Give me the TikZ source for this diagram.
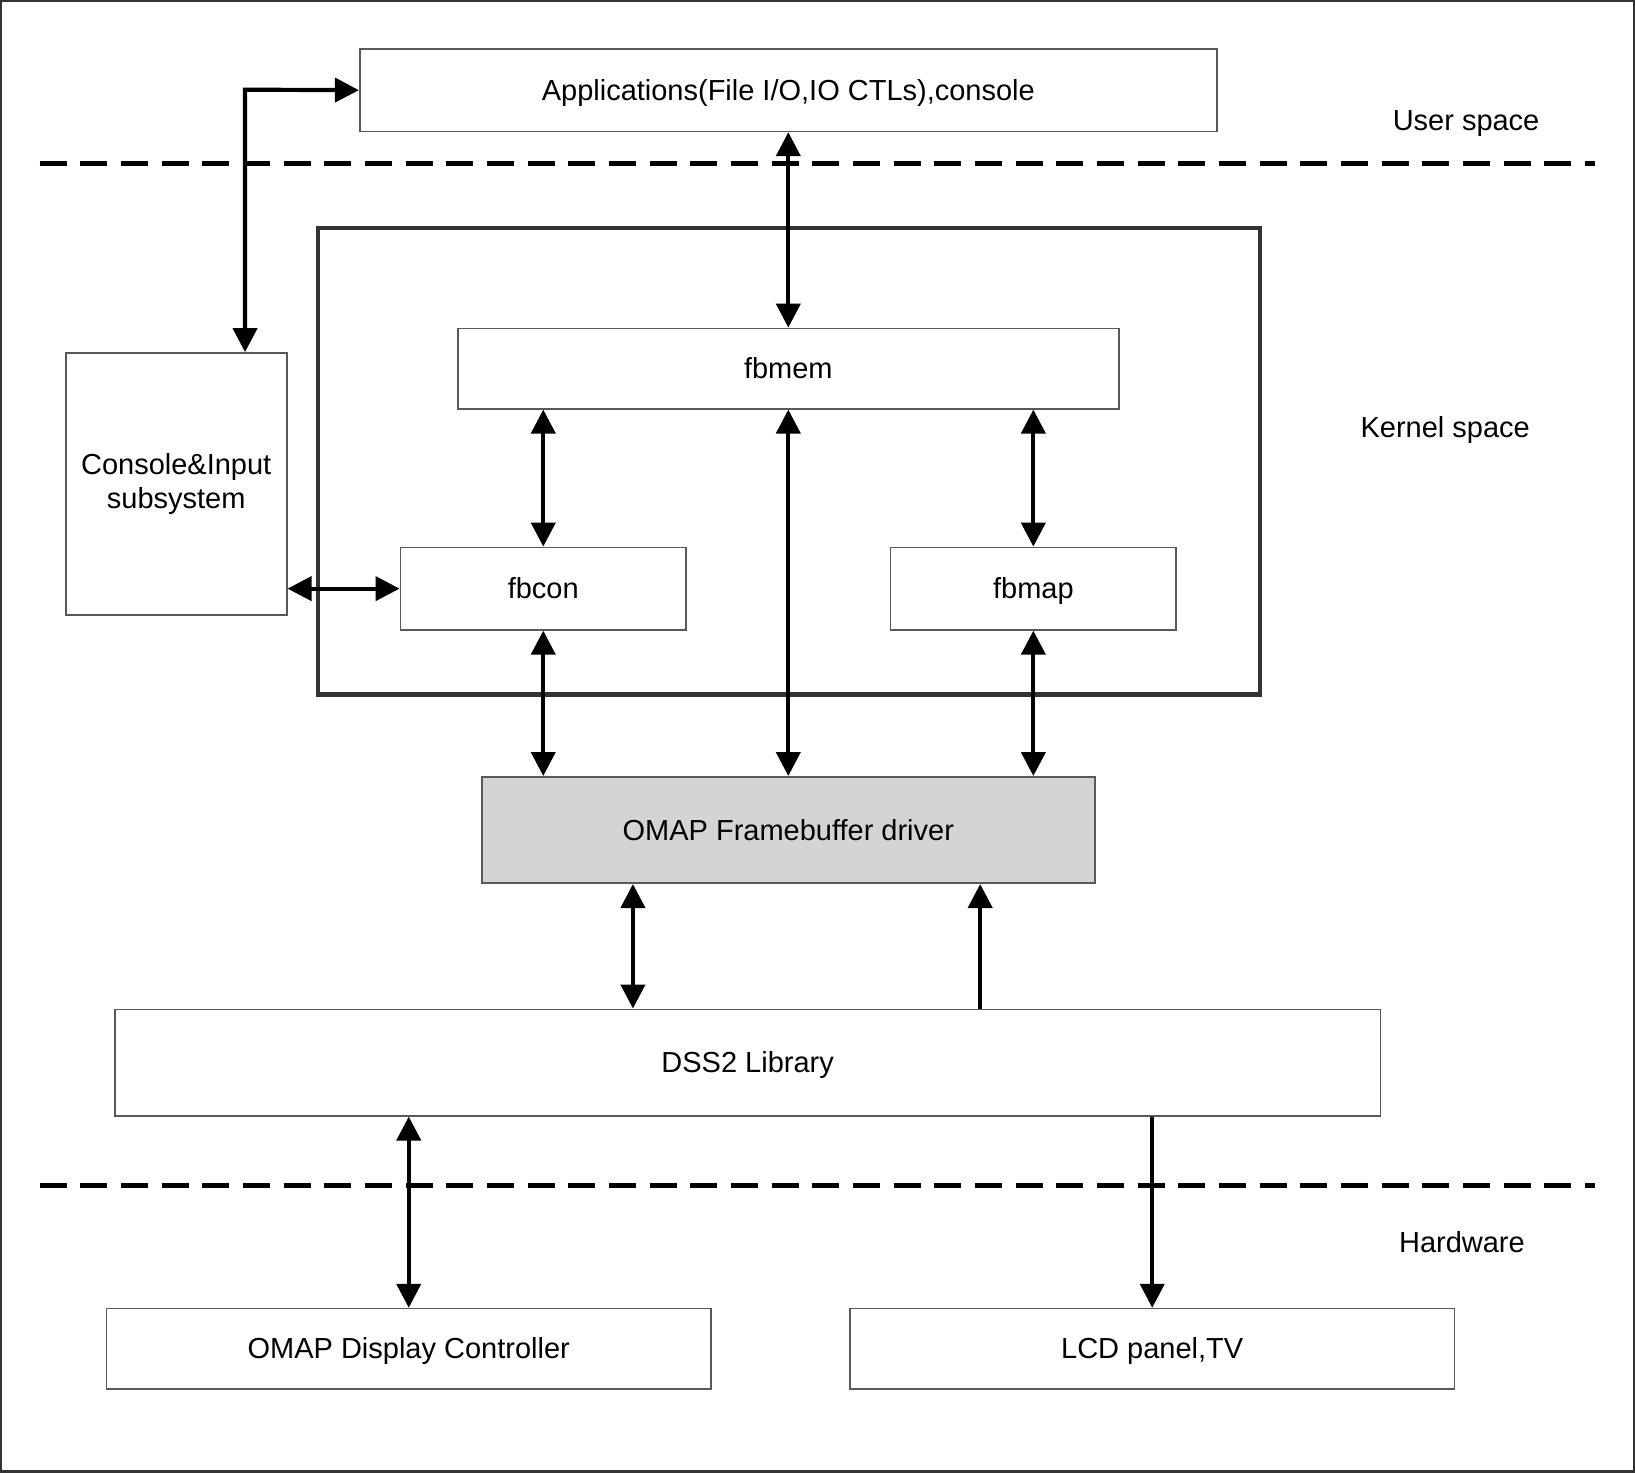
\documentclass[tikz,border=0pt]{standalone}
\usepackage{fontspec}
\setmainfont{Liberation Sans}
\usetikzlibrary{arrows.meta,calc}
\begin{document}
\begin{tikzpicture}[x=0.5pt,y=-0.5pt,
  box/.style={draw=black!65,line width=0.8pt,inner sep=0pt,align=center,font=\fontsize{13.9pt}{16.5pt}\selectfont},
  onel/.style={text height=10.5pt,text depth=0.8pt},
  lbl/.style={inner sep=0pt,font=\fontsize{13.9pt}{16.5pt}\selectfont},
  conn/.style={line width=2pt,-{Triangle[length=11.5pt,width=11.5pt]}},
  biconn/.style={line width=2pt,{Triangle[length=11.5pt,width=11.5pt]}-{Triangle[length=11.5pt,width=11.5pt]}},
  sep/.style={line width=2.4pt,dash pattern=on 13pt off 6.5pt}]
\useasboundingbox (0,0) rectangle (1568,1412);
\draw[black!80,line width=1.2pt] (1,1) rectangle (1567,1411);
% separators
\draw[sep] (38,157) -- (1530,157);
\draw[sep] (38,1137) -- (1530,1137);
% kernel frame
\node[draw=black!80,line width=2pt,minimum width=451.5pt,minimum height=223.5pt,inner sep=0pt] (kern) at (756.5,442.5) {};
% boxes
\node[box,onel,minimum width=411pt,minimum height=39.5pt] (app) at (756,86.5) {Applications(File I/O,IO CTLs),console};
\node[box,onel,minimum width=317pt,minimum height=38.5pt] (fbmem) at (756,353.5) {fbmem};
\node[box,onel,minimum width=137pt,minimum height=39.5pt] (fbcon) at (521,564.5) {fbcon};
\node[box,onel,minimum width=137pt,minimum height=39.5pt] (fbmap) at (991,564.5) {fbmap};
\node[box,minimum width=106pt,minimum height=125.5pt] (cons) at (169,464) {Console\&Input\\subsystem};
\node[box,onel,fill=black!17,minimum width=294pt,minimum height=51pt] (omapfb) at (756,796) {OMAP Framebuffer driver};
\node[box,onel,minimum width=607pt,minimum height=51pt] (dss) at (717,1019) {DSS2 Library};
\node[box,onel,minimum width=290pt,minimum height=38.5pt] (dc) at (392,1293.5) {OMAP Display Controller};
\node[box,onel,minimum width=290pt,minimum height=38.5pt] (lcd) at (1105,1293.5) {LCD panel,TV};
% labels
\node[lbl] (us) at (1406,118) {User space};
\node[lbl] (ks) at (1386,412) {Kernel space};
\node[lbl] (hw) at (1402,1191) {Hardware};
% connectors
\coordinate (bend) at (235,86);
\draw[biconn] (app.west) -- (bend) -- (bend |- cons.north);
\draw[biconn] (app.south) -- (fbmem.north);
\draw[biconn] (fbcon.north |- fbmem.south) -- (fbcon.north);
\draw[biconn] (fbmap.north |- fbmem.south) -- (fbmap.north);
\draw[biconn] (fbmem.south) -- (omapfb.north);
\draw[biconn] (fbcon.south) -- (fbcon.south |- omapfb.north);
\draw[biconn] (fbmap.south) -- (fbmap.south |- omapfb.north);
\draw[biconn] (cons.east |- fbcon.west) -- (fbcon.west);
\coordinate (d1) at (607,968);
\coordinate (d2) at (940,968);
\draw[biconn] (d1 |- omapfb.south) -- (d1 |- dss.north);
\draw[conn] (d2 |- dss.north) -- (d2 |- omapfb.south);
\draw[biconn] (dc.north |- dss.south) -- (dc.north);
\draw[conn] (lcd.north |- dss.south) -- (lcd.north);
\end{tikzpicture}
\end{document}
